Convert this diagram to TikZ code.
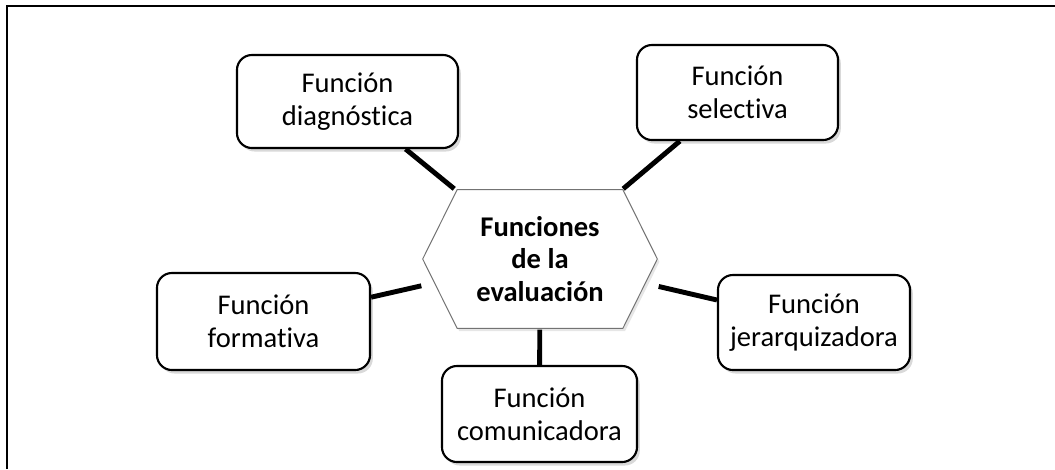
\documentclass[tikz,border=0pt]{standalone}
\usepackage{fontspec}
\setmainfont{Carlito}[Ligatures=NoCommon]
\usetikzlibrary{arrows,shadows}
\pgfdeclarelayer{background}
\pgfsetlayers{background,main}

\begin{document}
\begin{tikzpicture}[-,shorten >=1pt,x=0.025cm,y=-0.025cm,
  func node/.style={rectangle,rounded corners=0.375cm,draw,fill=white,line width=1.5pt,
        align=center,inner sep=0pt,font=\fontsize{20.3}{23.4}\selectfont,
        drop shadow={opacity=0.3,shadow xshift=2pt,shadow yshift=-2.5pt}},
  main node/.style={rectangle,inner sep=0pt,align=center,minimum width=5.85cm,
        minimum height=3.45cm,font=\fontsize{20.3}{23.4}\selectfont\bfseries}]
  \useasboundingbox (0,0) rectangle (1055,469);
  \draw[line width=1.4pt,shorten >=0pt] (7,469) -- (7,6) -- (1055,6);

  \node[main node] (1) at (540,259) {Funciones\\de la\\evaluación};
  \node[func node,minimum width=5.525cm,minimum height=2.325cm] (2) at (347.5,101.5) {Función\\diagnóstica};
  \node[func node,minimum width=5.025cm,minimum height=2.375cm] (3) at (737.5,92.5) {Función\\selectiva};
  \node[func node,minimum width=5.325cm,minimum height=2.425cm] (4) at (263.5,321.5) {Función\\formativa};
  \node[func node,minimum width=4.8cm,minimum height=2.375cm] (5) at (814,322.5) {Función\\jerarquizadora};
  \node[func node,minimum width=4.875cm,minimum height=2.4cm] (6) at (539.5,414) {Función\\comunicadora};

  \begin{pgfonlayer}{background}
    \draw[gray!90!black,line width=0.7pt,fill=white,shorten >=0pt,
          drop shadow={opacity=0.2,shadow xshift=1.5pt,shadow yshift=-2pt}]
      ([xshift=0.86cm]1.north west) -- ([xshift=-0.86cm]1.north east) -- (1.east)
      -- ([xshift=-0.86cm]1.south east) -- ([xshift=0.86cm]1.south west) -- (1.west) -- cycle;
  \end{pgfonlayer}

  \path[every edge/.style={draw,line width=3.5pt}]
    (2) edge (1)
    (3) edge (1)
    (4) edge (1)
    (5) edge (1)
    (6) edge (1);
\end{tikzpicture}
\end{document}
